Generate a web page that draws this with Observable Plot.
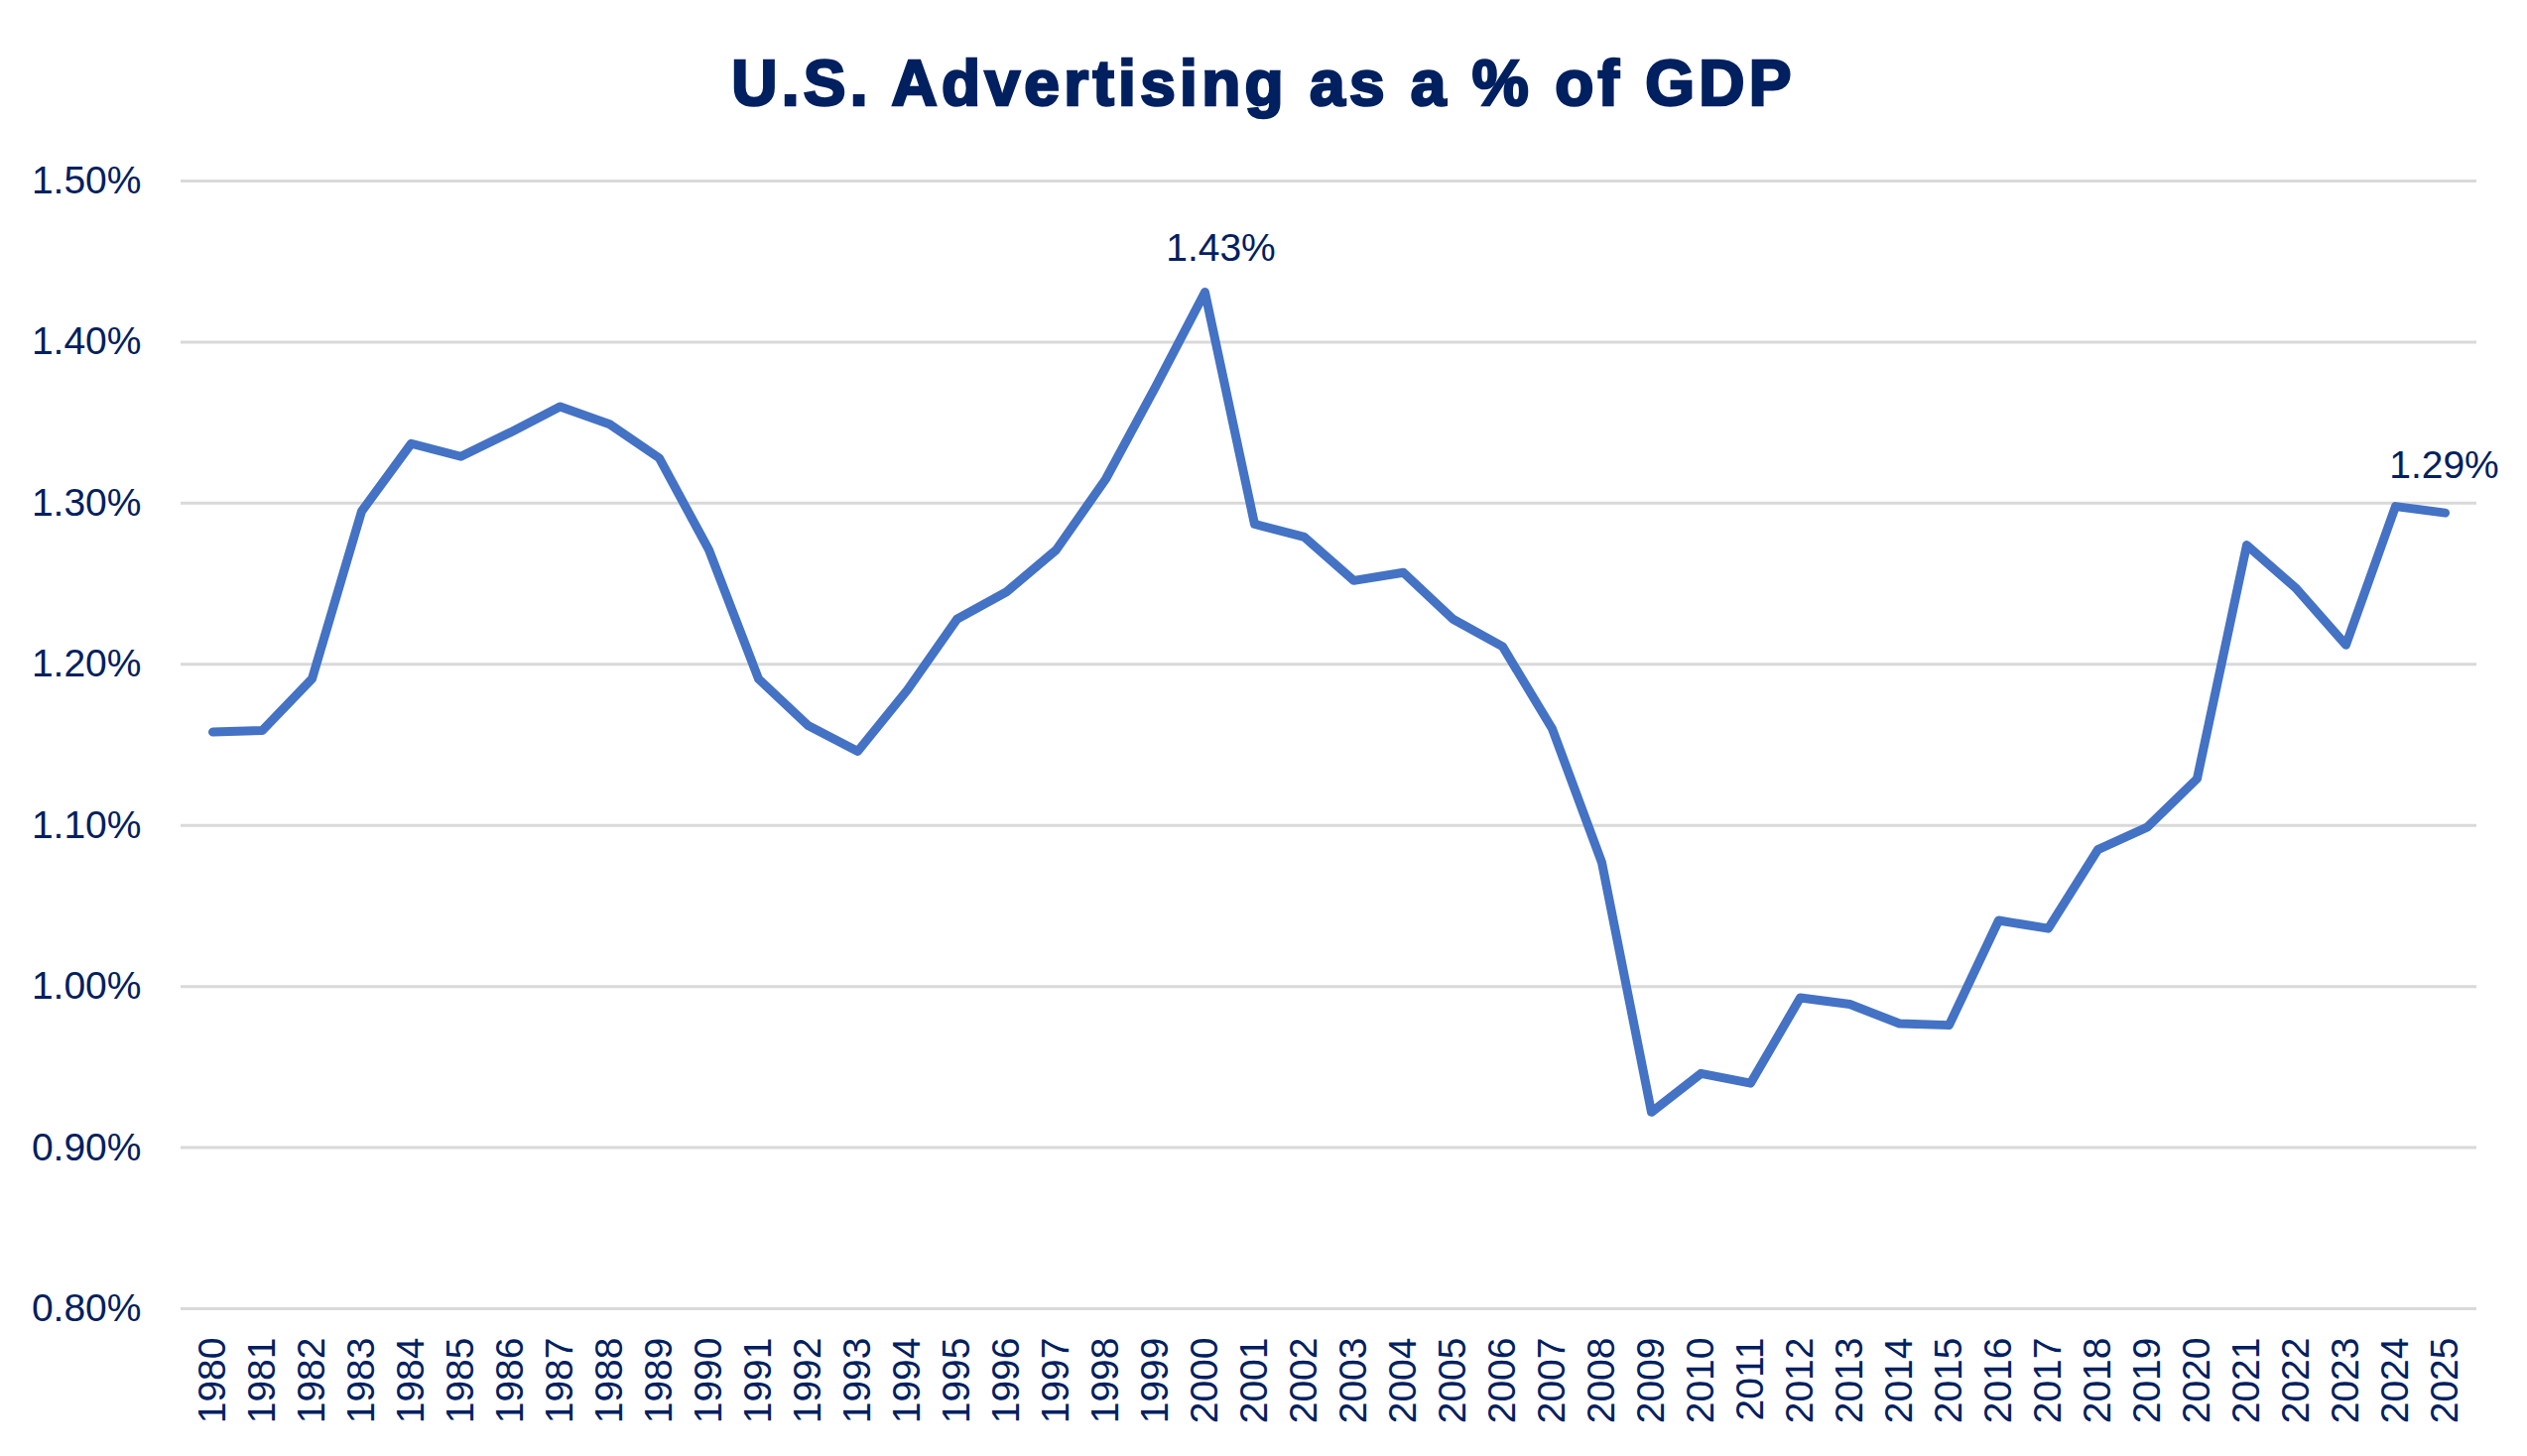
<!DOCTYPE html>
<html><head><meta charset="utf-8">
<script src="https://cdn.jsdelivr.net/npm/d3@7"></script>
<script src="https://cdn.jsdelivr.net/npm/@observablehq/plot@0.6"></script>
<style>
html,body{margin:0;padding:0;background:#fff;}
#title{width:2547px;height:130px;box-sizing:border-box;padding-top:52px;text-align:center;font:bold 64px/64px "Liberation Sans",Arial,sans-serif;color:#002060;letter-spacing:4.3px;-webkit-text-stroke:2.6px #002060;white-space:nowrap;}
#chart svg{display:block;}
</style></head><body>
<div id="title">U.S. Advertising as a % of GDP</div>
<div id="chart"></div>
<script>
const years = [1980,1981,1982,1983,1984,1985,1986,1987,1988,1989,1990,1991,1992,1993,1994,1995,1996,1997,1998,1999,2000,2001,2002,2003,2004,2005,2006,2007,2008,2009,2010,2011,2012,2013,2014,2015,2016,2017,2018,2019,2020,2021,2022,2023,2024,2025];
const values = [1.158,1.159,1.191,1.295,1.337,1.329,1.344,1.360,1.349,1.328,1.271,1.191,1.162,1.146,1.184,1.228,1.245,1.271,1.315,1.372,1.431,1.287,1.279,1.252,1.257,1.228,1.211,1.160,1.077,0.922,0.946,0.940,0.993,0.989,0.977,0.976,1.041,1.036,1.085,1.099,1.129,1.274,1.247,1.212,1.298,1.294];
const yTicks = [0.8,0.9,1.0,1.1,1.2,1.3,1.4,1.5];
const labelYears = [2000, 2025];
const labelDx = [16, -1];
const labelDy = [-32, -35];

const data = years.map((year, i) => ({year, value: values[i]}));
const fmt = d => d.toFixed(2) + "%";

const chart = Plot.plot({
  width: 2547,
  height: 1338,
  marginTop: 52,
  marginBottom: 149,
  marginLeft: 182,
  marginRight: 51,
  style: {fontFamily: '"Liberation Sans", Arial, sans-serif', fontSize: "39px", color: "#002060", background: "#fff"},
  x: {type: "point", domain: years, padding: 0.5},
  y: {domain: [0.8, 1.5]},
  marks: [
    Plot.gridY(yTicks, {stroke: "#d9d9d9", strokeOpacity: 1, strokeWidth: 3}),
    Plot.axisY(yTicks, {tickSize: 0, tickPadding: 40, tickFormat: fmt, label: null}),
    Plot.axisX(years, {tickSize: 0, tickPadding: 29, tickRotate: -90, label: null, tickFormat: d => String(d)}),
    Plot.line(data, {x: "year", y: "value", stroke: "#4472c4", strokeWidth: 9, strokeLinejoin: "round", strokeLinecap: "round"}),
    ...labelYears.map((yr, i) => Plot.text(data.filter(d => d.year === yr), {
      x: "year", y: "value", text: d => fmt(d.value),
      dx: labelDx[i], dy: labelDy[i], lineAnchor: "bottom", fill: "#002060", fontSize: 39
    }))
  ]
});
document.getElementById("chart").appendChild(chart);
</script>
</body></html>
